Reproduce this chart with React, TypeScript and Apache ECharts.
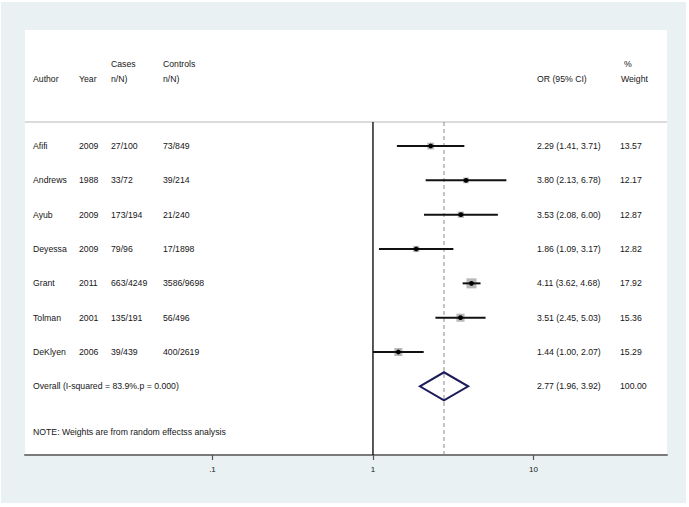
import React, { useEffect, useRef } from 'react';
import * as echarts from 'echarts';

// ---- data ----
const authors = ['Afifi', 'Andrews', 'Ayub', 'Deyessa', 'Grant', 'Tolman', 'DeKlyen'];
const years = ['2009', '1988', '2009', '2009', '2011', '2001', '2006'];
const casesNN = ['27/100', '33/72', '173/194', '79/96', '663/4249', '135/191', '39/439'];
const controlsNN = ['73/849', '39/214', '21/240', '17/1898', '3586/9698', '56/496', '400/2619'];
const oddsRatios = [2.29, 3.8, 3.53, 1.86, 4.11, 3.51, 1.44];
const ciLower = [1.41, 2.13, 2.08, 1.09, 3.62, 2.45, 1.0];
const ciUpper = [3.71, 6.78, 6.0, 3.17, 4.68, 5.03, 2.07];
const weights = [13.57, 12.17, 12.87, 12.82, 17.92, 15.36, 15.29];
const overallOR = 2.77;
const overallLower = 1.96;
const overallUpper = 3.92;
const overallWeight = 100.0;
const overallLabel = 'Overall (I-squared = 83.9%.p = 0.000)';
const noteText = 'NOTE: Weights are from random effectss analysis';
const xTickValues = [0.1, 1, 10];
const xTickLabels = ['.1', '1', '10'];

// ---- layout ----
const OFFX = 1;
const OFFY = 2;
const XMIN = -2.168;
const XMAX = 1.832;
const YMIN = -3.38;
const YMAX = 9;
const ROW_HEAD1 = -2.39;
const ROW_HEAD2 = -1.95;
const ROW_SEP = -0.7;
const ROW_OVERALL = 7;
const ROW_NOTE = 8.34;
const COL_AUTHOR = 33 - OFFX;
const COL_YEAR = 79 - OFFX;
const COL_CASES = 111 - OFFX;
const COL_CONTROLS = 163 - OFFX;
const COL_OR = 537 - OFFX;
const COL_WEIGHT = 620 - OFFX;
const FONT = "'Liberation Sans', Arial, sans-serif";
const FS = 8.7;
const TXT = '#161616';

const fmt = (v: number) => v.toFixed(2);
const lg = (v: number) => Math.log10(v);

function txt(text: string, x: number, y: number) {
  return {
    type: 'text',
    x,
    y,
    style: { text, fill: TXT, fontSize: FS, fontFamily: FONT, align: 'left', verticalAlign: 'middle' },
  };
}

export default function App() {
  const ref = useRef<HTMLDivElement>(null);
  useEffect(() => {
    if (!ref.current) return;
    const chart = echarts.init(ref.current, null, { renderer: 'svg' });
    const tickLogs = xTickValues.map(lg);
    chart.setOption({
      animation: false,
      backgroundColor: '#e9f1f3',
      grid: {
        left: 24,
        right: 19,
        top: 28,
        bottom: 48,
        show: true,
        backgroundColor: '#ffffff',
        borderWidth: 0,
      },
      xAxis: {
        type: 'value',
        min: XMIN,
        max: XMAX,
        axisLine: { show: true, onZero: false, lineStyle: { color: '#7a7a7a', width: 2 } },
        axisTick: { show: true, length: 5, customValues: tickLogs, lineStyle: { color: '#555', width: 1.2 } },
        axisLabel: {
          customValues: tickLogs,
          margin: 10,
          fontSize: 8,
          fontFamily: FONT,
          color: TXT,
          formatter: (v: number) => {
            const idx = tickLogs.findIndex((t) => Math.abs(t - v) < 1e-6);
            return idx >= 0 ? xTickLabels[idx] : '';
          },
        },
        splitLine: { show: false },
      },
      yAxis: {
        type: 'value',
        inverse: true,
        min: YMIN,
        max: YMAX,
        show: false,
        splitLine: { show: false },
      },
      series: [
        {
          // separator, null line, overall dashed line
          type: 'custom',
          z: 1,
          data: [[0, ROW_SEP]],
          renderItem: (_p: any, api: any) => {
            const a = api.coord([XMIN, ROW_SEP]);
            const b = api.coord([XMAX, ROW_SEP]);
            const n1 = api.coord([0, ROW_SEP]);
            const n2 = api.coord([0, YMAX]);
            const d1 = api.coord([lg(overallOR), ROW_SEP]);
            const d2 = api.coord([lg(overallOR), YMAX]);
            return {
              type: 'group',
              children: [
                { type: 'line', shape: { x1: a[0], y1: a[1], x2: b[0], y2: b[1] }, style: { stroke: '#cfcfcf', lineWidth: 1.6 } },
                { type: 'line', shape: { x1: n1[0], y1: n1[1], x2: n2[0], y2: n2[1] }, style: { stroke: '#111', lineWidth: 1.4 } },
                { type: 'line', shape: { x1: d1[0], y1: d1[1], x2: d2[0], y2: d2[1] }, style: { stroke: '#8a8a8a', lineWidth: 1, lineDash: [4, 3] } },
              ],
            };
          },
        },
        {
          // study estimates
          type: 'custom',
          z: 3,
          data: oddsRatios.map((v, i) => [lg(v), i]),
          renderItem: (params: any, api: any) => {
            const i = params.dataIndex;
            const lo = api.coord([lg(ciLower[i]), i]);
            const hi = api.coord([lg(ciUpper[i]), i]);
            const c = api.coord([lg(oddsRatios[i]), i]);
            const s = 0.75 * weights[i] - 3.4;
            return {
              type: 'group',
              children: [
                { type: 'rect', shape: { x: c[0] - s / 2, y: c[1] - s / 2, width: s, height: s }, style: { fill: '#b9b9b9' } },
                { type: 'line', shape: { x1: lo[0], y1: lo[1], x2: hi[0], y2: hi[1] }, style: { stroke: '#111', lineWidth: 2 } },
                { type: 'circle', shape: { cx: c[0], cy: c[1], r: 2.4 }, style: { fill: '#000' } },
              ],
            };
          },
        },
        {
          // overall diamond
          type: 'custom',
          z: 3,
          data: [[lg(overallOR), ROW_OVERALL]],
          renderItem: (_p: any, api: any) => {
            const h = 0.41;
            const l = api.coord([lg(overallLower), ROW_OVERALL]);
            const t = api.coord([lg(overallOR), ROW_OVERALL - h]);
            const r = api.coord([lg(overallUpper), ROW_OVERALL]);
            const b = api.coord([lg(overallOR), ROW_OVERALL + h]);
            return {
              type: 'polygon',
              shape: { points: [l, t, r, b] },
              style: { fill: 'none', stroke: '#1c1c5c', lineWidth: 2 },
            };
          },
        },
        {
          // table texts for studies
          type: 'custom',
          z: 4,
          data: authors.map((_, i) => [0, i]),
          renderItem: (params: any, api: any) => {
            const i = params.dataIndex;
            const y = api.coord([0, i])[1];
            return {
              type: 'group',
              children: [
                txt(authors[i], COL_AUTHOR, y),
                txt(years[i], COL_YEAR, y),
                txt(casesNN[i], COL_CASES, y),
                txt(controlsNN[i], COL_CONTROLS, y),
                txt(`${fmt(oddsRatios[i])} (${fmt(ciLower[i])}, ${fmt(ciUpper[i])})`, COL_OR, y),
                txt(fmt(weights[i]), COL_WEIGHT, y),
              ],
            };
          },
        },
        {
          // header, overall and note texts
          type: 'custom',
          z: 4,
          data: [[0, ROW_OVERALL]],
          renderItem: (_p: any, api: any) => {
            const y1 = api.coord([0, ROW_HEAD1])[1];
            const y2 = api.coord([0, ROW_HEAD2])[1];
            const yo = api.coord([0, ROW_OVERALL])[1];
            const yn = api.coord([0, ROW_NOTE])[1];
            return {
              type: 'group',
              children: [
                txt('Cases', COL_CASES, y1),
                txt('Controls', COL_CONTROLS, y1),
                txt('%', COL_WEIGHT + 4, y1),
                txt('Author', COL_AUTHOR, y2),
                txt('Year', COL_YEAR, y2),
                txt('n/N)', COL_CASES, y2),
                txt('n/N)', COL_CONTROLS, y2),
                txt('OR (95% CI)', COL_OR, y2),
                txt('Weight', COL_WEIGHT + 1, y2),
                txt(overallLabel, COL_AUTHOR, yo),
                txt(`${fmt(overallOR)} (${fmt(overallLower)}, ${fmt(overallUpper)})`, COL_OR, yo),
                txt(fmt(overallWeight), COL_WEIGHT, yo),
                txt(noteText, COL_AUTHOR, yn),
              ],
            };
          },
        },
      ],
    });
    return () => chart.dispose();
  }, []);
  return (
    <div style={{ position: 'fixed', left: 0, top: 0, width: 689, height: 507, background: '#ffffff' }}>
      <div ref={ref} style={{ position: 'absolute', left: OFFX, top: OFFY, width: 685, height: 501 }} />
    </div>
  );
}
